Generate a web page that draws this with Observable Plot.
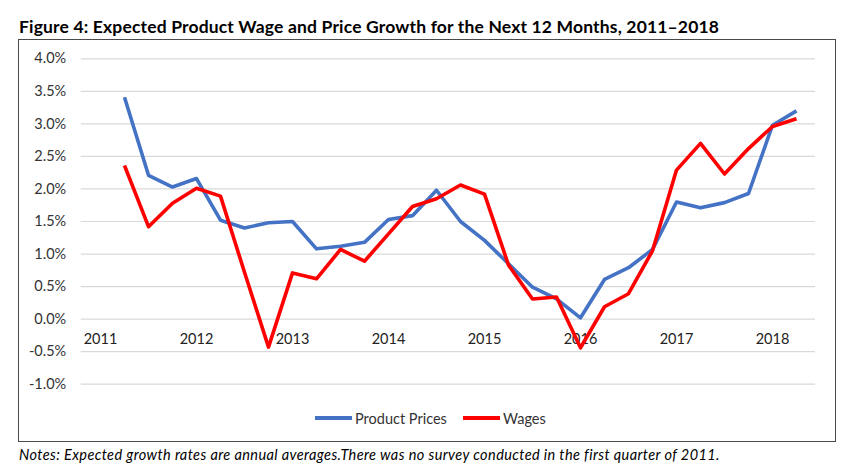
<!DOCTYPE html>
<html>
<head>
<meta charset="utf-8">
<script src="https://cdn.jsdelivr.net/npm/d3@7"></script>
<script src="https://cdn.jsdelivr.net/npm/@observablehq/plot@0.6"></script>
<style>
  body { margin:0; width:860px; height:475px; position:relative; background:#fff; font-family:Lato, "Open Sans", sans-serif; overflow:hidden; }
  #title { position:absolute; left:19px; top:17px; font-weight:bold; font-size:17.5px; letter-spacing:0.16px; line-height:20px; color:#000; white-space:nowrap; }
  #box { position:absolute; left:18px; top:39px; width:816px; height:401px; border:1.6px solid #4a4a4a; }
  #chart { position:absolute; left:0; top:40px; }
  #legend { position:absolute; top:408px; left:0; width:860px; height:20px; font-size:14.5px; color:#333; }
  .item { position:absolute; top:0; display:flex; align-items:center; height:20px; }
  .sw { display:inline-block; width:37px; height:3.5px; margin-right:3px; }
  #notes { position:absolute; left:19px; top:446px; font-style:italic; font-size:14.5px; letter-spacing:0.4px; line-height:18px; color:#000; white-space:nowrap; }
</style>
</head>
<body>
<div id="title"></div>
<div id="box"></div>
<div id="chart"></div>
<div id="legend"></div>
<div id="notes"></div>
<script>
const titleText = "Figure 4: Expected Product Wage and Price Growth for the Next 12 Months, 2011–2018";
const notesText = "Notes: Expected growth rates are annual averages.There was no survey conducted in the first quarter of 2011.";

const years = ["2011","2012","2013","2014","2015","2016","2017","2018"];
const quarters = [
  "2011Q1","2011Q2","2011Q3","2011Q4",
  "2012Q1","2012Q2","2012Q3","2012Q4",
  "2013Q1","2013Q2","2013Q3","2013Q4",
  "2014Q1","2014Q2","2014Q3","2014Q4",
  "2015Q1","2015Q2","2015Q3","2015Q4",
  "2016Q1","2016Q2","2016Q3","2016Q4",
  "2017Q1","2017Q2","2017Q3","2017Q4",
  "2018Q1","2018Q2"
];
// Expected growth, percent (no survey in 2011 Q1)
const productPrices = [
  null, 3.41, 2.21, 2.03,
  2.16, 1.52, 1.40, 1.48,
  1.50, 1.08, 1.12, 1.18,
  1.53, 1.59, 1.98, 1.50,
  1.21, 0.85, 0.49, 0.31,
  0.02, 0.61, 0.79, 1.07,
  1.80, 1.71, 1.79, 1.93,
  2.98, 3.20
];
const wages = [
  null, 2.36, 1.42, 1.78,
  2.01, 1.89, 0.72, -0.43,
  0.71, 0.62, 1.07, 0.89,
  1.31, 1.73, 1.85, 2.06,
  1.92, 0.83, 0.31, 0.34,
  -0.44, 0.19, 0.39, 1.05,
  2.29, 2.70, 2.23, 2.62,
  2.96, 3.08
];
const yTicks = [-1, -0.5, 0, 0.5, 1, 1.5, 2, 2.5, 3, 3.5, 4];
const seriesNames = ["Product Prices", "Wages"];
const seriesColors = ["#4472C4", "#FF0000"];

document.getElementById("title").textContent = titleText;
document.getElementById("notes").textContent = notesText;

const toRows = (vals, name) => vals.map((v, i) => ({q: quarters[i], v, name})).filter(d => d.v != null);
const rows = [...toRows(productPrices, seriesNames[0]), ...toRows(wages, seriesNames[1])];

const chart = Plot.plot({
  width: 860,
  height: 360,
  marginLeft: 80.7,
  marginRight: 45,
  marginTop: 18.3,
  marginBottom: 16.3,
  style: {fontFamily: "Lato, 'Open Sans', sans-serif", fontSize: "14px", color: "#333", background: "transparent"},
  x: {type: "point", domain: quarters, padding: 0.5, axis: null},
  y: {domain: [-1, 4], ticks: yTicks},
  color: {domain: seriesNames, range: seriesColors},
  marks: [
    Plot.gridY(yTicks, {stroke: "#d9d9d9", strokeOpacity: 1, strokeWidth: 1.2}),
    Plot.axisY(yTicks, {tickSize: 0, tickPadding: 15, tickFormat: d => d.toFixed(1) + "%", fontSize: 14.5, fill: "#333", label: null}),
    Plot.text(years, {x: d => d + "Q1", y: () => 0, text: d => d, dy: 20.5, fontSize: 14.5, fill: "#222"}),
    Plot.line(rows, {x: "q", y: "v", z: "name", stroke: "name", strokeWidth: 3.6, strokeLinejoin: "round", strokeLinecap: "butt"})
  ]
});
document.getElementById("chart").appendChild(chart);

const legend = document.getElementById("legend");
const lefts = [315, 463];
seriesNames.forEach((n, i) => {
  const it = document.createElement("div");
  it.className = "item";
  it.style.left = lefts[i] + "px";
  const sw = document.createElement("span");
  sw.className = "sw";
  sw.style.background = seriesColors[i];
  const t = document.createElement("span");
  t.textContent = n;
  it.appendChild(sw); it.appendChild(t);
  legend.appendChild(it);
});
</script>
</body>
</html>
